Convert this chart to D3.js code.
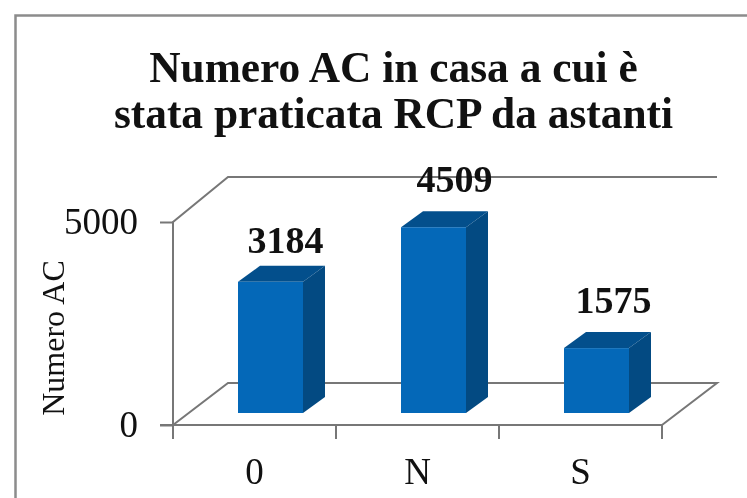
<!DOCTYPE html>
<html>
<head>
<meta charset="utf-8">
<script src="https://cdn.jsdelivr.net/npm/d3@7"></script>
<style>
html, body { margin: 0; padding: 0; background: #fff; overflow: hidden; }
text { font-family: "Liberation Serif", serif; fill: #111; }
#chart { filter: blur(0.6px); }
</style>
</head>
<body>
<svg id="chart" width="747" height="498"></svg>
<script>
let categories = ['0', 'N', 'S'];
let values = [3184, 4509, 1575];
let y_ticks = [0, 5000];
let title_lines = ['Numero AC in casa a cui è', 'stata praticata RCP da astanti'];
let y_label = 'Numero AC';

let svg = d3.select('#chart');

// depth of the fake 3d box
let wall_depth = {'x': 55, 'y': 45};
let floor_depth = {'x': 55, 'y': 42};
let bar_depth = {'x': 22, 'y': 16};

let x = d3.scaleBand()
    .domain(categories)
    .range([173, 662]);
let y = d3.scaleLinear()
    .domain([0, 5000])
    .range([425, 222]);
// bars stand a bit behind the front of the floor
let y_bar = d3.scaleLinear()
    .domain([0, 5000])
    .range([413, 207]);

// outer frame
svg.append('path')
    .attr('d', 'M15.5,498V15.5H747')
    .attr('fill', 'none')
    .attr('stroke', '#8c8c8c')
    .attr('stroke-width', 2.5);

// title
svg.append('g')
    .selectAll('text')
    .data(title_lines)
    .enter().append('text')
    .attr('x', 393.5)
    .attr('y', (d, i) => 82 + i * 46)
    .attr('text-anchor', 'middle')
    .attr('font-size', 43.4)
    .attr('font-weight', 'bold')
    .text(d => d);

// back wall and floor
let line_color = '#777';
let x0 = x.range()[0], x1 = x.range()[1];
let y0 = y(0), y5 = y(5000);
svg.append('path')
    .attr('d', `M${x0},${y0}V${y5}L${x0 + wall_depth.x},${y5 - wall_depth.y}H${x1 + wall_depth.x}`)
    .attr('fill', 'none')
    .attr('stroke', line_color)
    .attr('stroke-width', 2);
svg.append('path')
    .attr('d', `M${x0},${y0}L${x0 + floor_depth.x},${y0 - floor_depth.y}H${x1 + floor_depth.x}L${x1},${y0}`)
    .attr('fill', 'none')
    .attr('stroke', line_color)
    .attr('stroke-width', 2);

// x axis
let axis_x = d3.axisBottom(x).tickSize(0).tickPadding(33);
let gx = svg.append('g')
    .attr('transform', `translate(0, ${y0})`)
    .call(axis_x);
gx.select('.domain')
    .attr('d', `M${x0 - 13},0H${x1}`)
    .attr('stroke', line_color)
    .attr('stroke-width', 2);
gx.selectAll('text')
    .attr('font-size', 37)
    .attr('font-family', '"Liberation Serif", serif')
    .attr('fill', '#111')
    .attr('dy', '0.71em');
gx.append('g')
    .selectAll('line')
    .data(categories.map(d => x(d)).concat([x1]))
    .enter().append('line')
    .attr('x1', d => d)
    .attr('x2', d => d)
    .attr('y1', 0)
    .attr('y2', 14)
    .attr('stroke', line_color)
    .attr('stroke-width', 2);

// y axis
let axis_y = d3.axisLeft(y).tickValues(y_ticks).tickSize(13).tickPadding(22).tickFormat(d => d);
let gy = svg.append('g')
    .attr('transform', `translate(${x0}, 0)`)
    .call(axis_y);
gy.select('.domain').remove();
gy.selectAll('line')
    .attr('stroke', line_color)
    .attr('stroke-width', 2);
gy.selectAll('text')
    .attr('font-size', 37)
    .attr('font-family', '"Liberation Serif", serif')
    .attr('fill', '#111');

svg.append('text')
    .attr('transform', 'translate(64, 338) rotate(-90)')
    .attr('text-anchor', 'middle')
    .attr('font-size', 32)
    .text(y_label);

// bars
let bar_w = 65;
let bar_left = d => x(d) + 65;
let bars = svg.append('g')
    .selectAll('g')
    .data(categories.map((c, i) => ({'cat': c, 'val': values[i]})))
    .enter().append('g');
// top
bars.append('path')
    .attr('d', d => {
        let l = bar_left(d.cat), t = y_bar(d.val);
        return `M${l},${t}L${l + bar_depth.x},${t - bar_depth.y}H${l + bar_w + bar_depth.x}L${l + bar_w},${t}Z`;
    })
    .attr('fill', '#034f8c');
// side
bars.append('path')
    .attr('d', d => {
        let r = bar_left(d.cat) + bar_w, t = y_bar(d.val), b = y_bar(0);
        return `M${r},${t}L${r + bar_depth.x},${t - bar_depth.y}V${b - bar_depth.y}L${r},${b}Z`;
    })
    .attr('fill', '#034a82');
// front
bars.append('rect')
    .attr('x', d => bar_left(d.cat))
    .attr('y', d => y_bar(d.val))
    .attr('width', bar_w)
    .attr('height', d => y_bar(0) - y_bar(d.val))
    .attr('fill', '#0468b8');

// value labels, placed by hand in the original so they are not all the same distance off
let label_dx = [15, 21, 17];
let label_dy = [29, 35, 35];
bars.append('text')
    .attr('x', (d, i) => bar_left(d.cat) + bar_w / 2 + label_dx[i])
    .attr('y', (d, i) => y_bar(d.val) - label_dy[i])
    .attr('text-anchor', 'middle')
    .attr('font-size', 38)
    .attr('font-weight', 'bold')
    .text(d => d.val);
</script>
</body>
</html>
